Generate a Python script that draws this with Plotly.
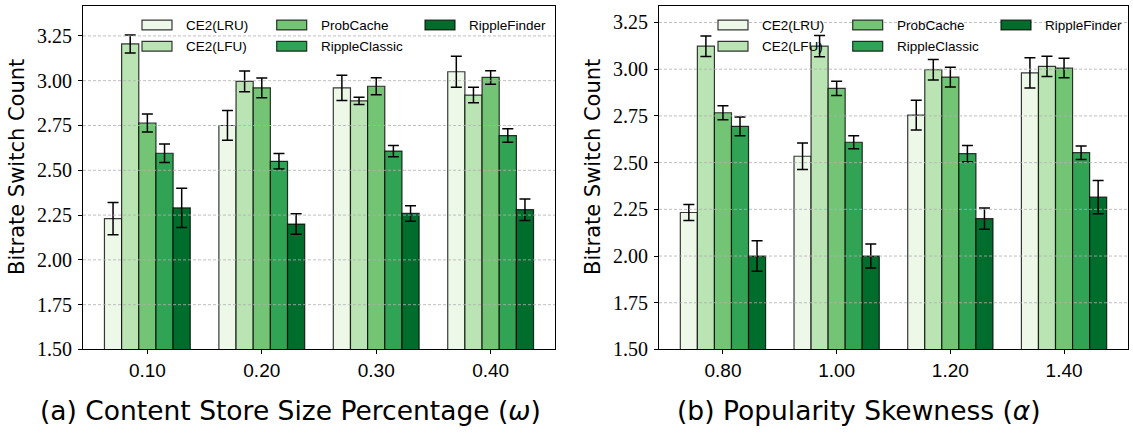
import plotly.graph_objects as go

# ---- data -------------------------------------------------------------
methods = ["CE2(LRU)", "CE2(LFU)", "ProbCache", "RippleClassic", "RippleFinder"]
colors = ["#edf8e9", "#bae4b3", "#74c476", "#31a354", "#006d2c"]

omega_labels = ["0.10", "0.20", "0.30", "0.40"]
omega_lru = [2.23, 2.75, 2.96, 3.05]
omega_lfu = [3.205, 2.996, 2.887, 2.92]
omega_prob = [2.764, 2.96, 2.969, 3.018]
omega_classic = [2.595, 2.55, 2.607, 2.694]
omega_finder = [2.29, 2.20, 2.259, 2.28]
omega_lru_err = [0.09, 0.083, 0.071, 0.086]
omega_lfu_err = [0.05, 0.058, 0.02, 0.043]
omega_prob_err = [0.05, 0.055, 0.047, 0.038]
omega_classic_err = [0.052, 0.043, 0.031, 0.038]
omega_finder_err = [0.11, 0.057, 0.043, 0.06]

alpha_labels = ["0.80", "1.00", "1.20", "1.40"]
alpha_lru = [2.233, 2.534, 2.754, 2.98]
alpha_lfu = [3.123, 3.123, 2.997, 3.015]
alpha_prob = [2.767, 2.897, 2.958, 3.006]
alpha_classic = [2.694, 2.609, 2.548, 2.553]
alpha_finder = [2.0, 2.0, 2.20, 2.315]
alpha_lru_err = [0.043, 0.071, 0.08, 0.081]
alpha_lfu_err = [0.055, 0.057, 0.055, 0.054]
alpha_prob_err = [0.037, 0.038, 0.053, 0.052]
alpha_classic_err = [0.05, 0.035, 0.044, 0.036]
alpha_finder_err = [0.082, 0.064, 0.057, 0.089]

y_ticks = [1.50, 1.75, 2.00, 2.25, 2.50, 2.75, 3.00, 3.25]

panels = [
    dict(labels=omega_labels,
         vals=[omega_lru, omega_lfu, omega_prob, omega_classic, omega_finder],
         errs=[omega_lru_err, omega_lfu_err, omega_prob_err, omega_classic_err, omega_finder_err],
         caption="(a) Content Store Size Percentage (<i>ω</i>)"),
    dict(labels=alpha_labels,
         vals=[alpha_lru, alpha_lfu, alpha_prob, alpha_classic, alpha_finder],
         errs=[alpha_lru_err, alpha_lfu_err, alpha_prob_err, alpha_classic_err, alpha_finder_err],
         caption="(b) Popularity Skewness (<i>α</i>)"),
]

# ---- geometry (pixels) --------------------------------------------------
W, H = 1133, 446
BAR_W = 0.15
axes_px = [(83, 555), (659, 1128)]   # left / right edge of each plot box
top_px, bottom_px = 6, 358.3
caption_cx = [290, 859]


def px(x):
    return x / W


def py(y):
    return 1 - y / H


fig = go.Figure()
shapes = []
annotations = []
layout_axes = {}

for k, panel in enumerate(panels):
    xa = "x" if k == 0 else "x2"
    ya = "y" if k == 0 else "y2"
    n_groups = len(panel["labels"])
    xs = list(range(n_groups))

    for i, name in enumerate(methods):
        fig.add_trace(go.Bar(
            name=name, x=xs, y=panel["vals"][i],
            width=BAR_W, offset=(i - 2.5) * BAR_W,
            marker=dict(color=colors[i], line=dict(color="rgba(0,0,0,0.78)", width=1.2)),
            error_y=dict(type="data", array=panel["errs"][i], color="black",
                         thickness=1.5, width=5.5),
            xaxis=xa, yaxis=ya, showlegend=False,
        ))

    ymax = max(v + e for vs, es in zip(panel["vals"], panel["errs"])
               for v, e in zip(vs, es)) * 1.05
    x0p, x1p = axes_px[k]
    margin = 2.5 * BAR_W + 0.05 * ((n_groups - 1) + 5 * BAR_W)
    xkey = "xaxis" if k == 0 else "xaxis2"
    ykey = "yaxis" if k == 0 else "yaxis2"
    layout_axes[xkey] = dict(
        domain=[px(x0p), px(x1p)], anchor=ya,
        range=[-margin, n_groups - 1 + margin],
        tickvals=xs, ticktext=panel["labels"],
        ticks="outside", ticklen=4, tickcolor="black", tickwidth=1,
        showline=True, mirror=True, linecolor="black", linewidth=1,
        showgrid=False, zeroline=False,
        tickfont=dict(family="Liberation Sans", size=19, color="black"),
    )
    layout_axes[ykey] = dict(
        domain=[py(bottom_px), py(top_px)], anchor=xa,
        range=[1.5, ymax],
        tickvals=y_ticks, ticktext=[f"{t:.2f}" for t in y_ticks],
        ticks="outside", ticklen=4, tickcolor="black", tickwidth=1,
        showline=True, mirror=True, linecolor="black", linewidth=1,
        showgrid=False, zeroline=False, ticklabelstandoff=2,
        tickfont=dict(family="Liberation Serif", size=20, color="black"),
    )

    # dashed horizontal grid drawn over the bars
    for t in y_ticks[1:]:
        shapes.append(dict(type="line", xref=f"{xa} domain", yref=ya,
                           x0=0, x1=1, y0=t, y1=t, layer="above",
                           line=dict(color="rgba(176,176,176,0.9)", width=0.9, dash="3px,2px")))

    # y-axis title
    annotations.append(dict(text="Bitrate Switch Count", textangle=-90,
                            x=px(x0p - 65.5), y=py(171.7), xref="paper", yref="paper",
                            xanchor="center", yanchor="middle", showarrow=False,
                            font=dict(family="DejaVu Sans", size=21, color="black")))
    # caption under the panel
    annotations.append(dict(text=panel["caption"],
                            x=px(caption_cx[k]), y=py(421), xref="paper", yref="paper",
                            xanchor="center", yanchor="middle", showarrow=False,
                            font=dict(family="DejaVu Sans", size=26.5, color="black")))

    # legend: three columns, filled column by column
    col_sw = [59, 193.7, 342]      # swatch left offset from plot box
    col_tx = [101, 235.7, 383.7]   # text left offset from plot box
    row_cy = [25.7, 47.5]
    for i, name in enumerate(methods):
        c, r = divmod(i, 2)
        sx = x0p + col_sw[c]
        shapes.append(dict(type="rect", xref="paper", yref="paper", layer="above",
                           x0=px(sx), x1=px(sx + 30), y0=py(row_cy[r] + 5), y1=py(row_cy[r] - 5),
                           fillcolor=colors[i], line=dict(color="rgba(0,0,0,0.78)", width=1.2)))
        annotations.append(dict(text=name, x=px(x0p + col_tx[c]), y=py(row_cy[r] + 0.5),
                                xref="paper", yref="paper", xanchor="left", yanchor="middle",
                                showarrow=False,
                                font=dict(family="Liberation Sans", size=13.5, color="black")))

fig.update_layout(
    width=W, height=H, margin=dict(l=0, r=0, t=0, b=0),
    paper_bgcolor="white", plot_bgcolor="white",
    barmode="overlay", showlegend=False,
    shapes=shapes, annotations=annotations,
    **layout_axes,
)

fig.write_html("out.html")
